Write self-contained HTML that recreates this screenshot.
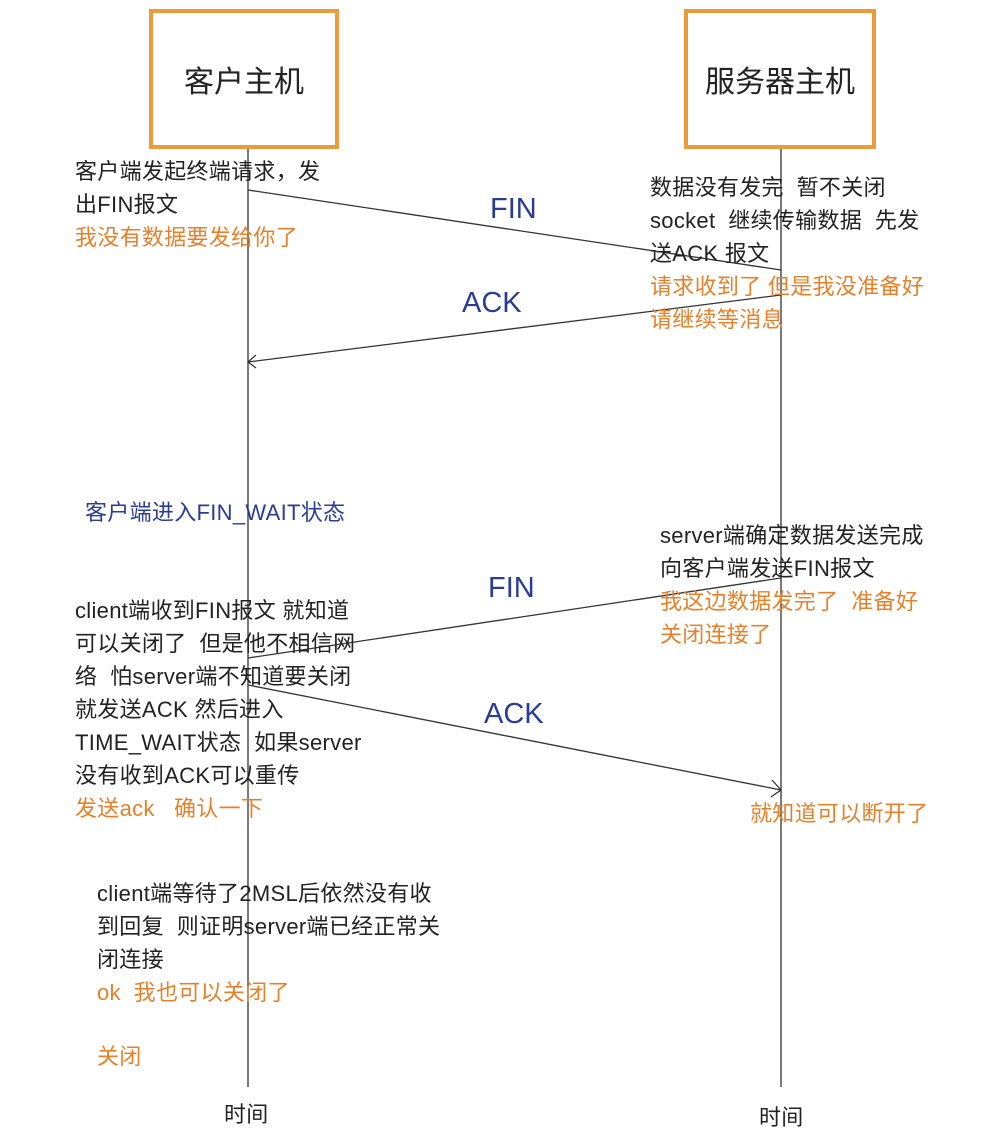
<!DOCTYPE html>
<html><head><meta charset="utf-8"><style>
body{margin:0;width:985px;height:1146px;background:#fff;position:relative;overflow:hidden;font-family:"Liberation Sans","Noto Sans CJK SC",sans-serif;}
.box{position:absolute;border:4px solid #ec9a3a;box-sizing:border-box;display:flex;align-items:center;justify-content:center;font-size:30px;color:#222;}
.t{position:absolute;font-size:22px;line-height:33px;color:#222;white-space:nowrap;letter-spacing:0.3px}
.o{color:#e8802a}
.b{color:#2a3c96}
.lbl{position:absolute;font-size:29px;color:#2a3c96;line-height:1}
svg{position:absolute;left:0;top:0}
</style></head><body>
<svg width="985" height="1146">
<g stroke="#333" stroke-width="1.3" fill="none">
<line x1="248" y1="148" x2="248" y2="1087"/>
<line x1="781" y1="148" x2="781" y2="1087"/>
<line x1="248" y1="190" x2="781" y2="270"/>
<line x1="781" y1="295" x2="248" y2="362"/>
<polyline points="256,355 248,362 256,368"/>
<line x1="781" y1="578" x2="248" y2="658"/>
<line x1="248" y1="685" x2="781" y2="790"/>
<polyline points="772,780 781,790 771,797"/>
</g>
</svg>
<div class="box" style="left:149px;top:9px;width:190px;height:140px">客户主机</div>
<div class="box" style="left:684px;top:9px;width:192px;height:140px">服务器主机</div>

<div class="t" style="left:75px;top:155px">客户端发起终端请求，发<br>出FIN报文<br><span class="o">我没有数据要发给你了</span></div>
<div class="t" style="left:650px;top:171px">数据没有发完&nbsp; 暂不关闭<br>socket&nbsp; 继续传输数据&nbsp; 先发<br>送ACK 报文<br><span class="o">请求收到了 但是我没准备好<br>请继续等消息</span></div>
<div class="lbl" style="left:490px;top:195px">FIN</div>
<div class="lbl" style="left:462px;top:289px">ACK</div>
<div class="t b" style="left:85px;top:496px">客户端进入FIN_WAIT状态</div>
<div class="t" style="left:660px;top:519px">server端确定数据发送完成<br>向客户端发送FIN报文<br><span class="o">我这边数据发完了&nbsp; 准备好<br>关闭连接了</span></div>
<div class="lbl" style="left:488px;top:574px">FIN</div>
<div class="lbl" style="left:484px;top:700px">ACK</div>
<div class="t" style="left:75px;top:594px">client端收到FIN报文 就知道<br>可以关闭了&nbsp; 但是他不相信网<br>络&nbsp; 怕server端不知道要关闭<br>就发送ACK 然后进入<br>TIME_WAIT状态&nbsp; 如果server<br>没有收到ACK可以重传<br><span class="o">发送ack&nbsp;&nbsp; 确认一下</span></div>
<div class="t o" style="left:750px;top:797px">就知道可以断开了</div>
<div class="t" style="left:97px;top:877px">client端等待了2MSL后依然没有收<br>到回复&nbsp; 则证明server端已经正常关<br>闭连接<br><span class="o">ok&nbsp; 我也可以关闭了</span></div>
<div class="t o" style="left:97px;top:1040px">关闭</div>
<div class="t" style="left:224px;top:1098px">时间</div>
<div class="t" style="left:759px;top:1101px">时间</div>
</body></html>
